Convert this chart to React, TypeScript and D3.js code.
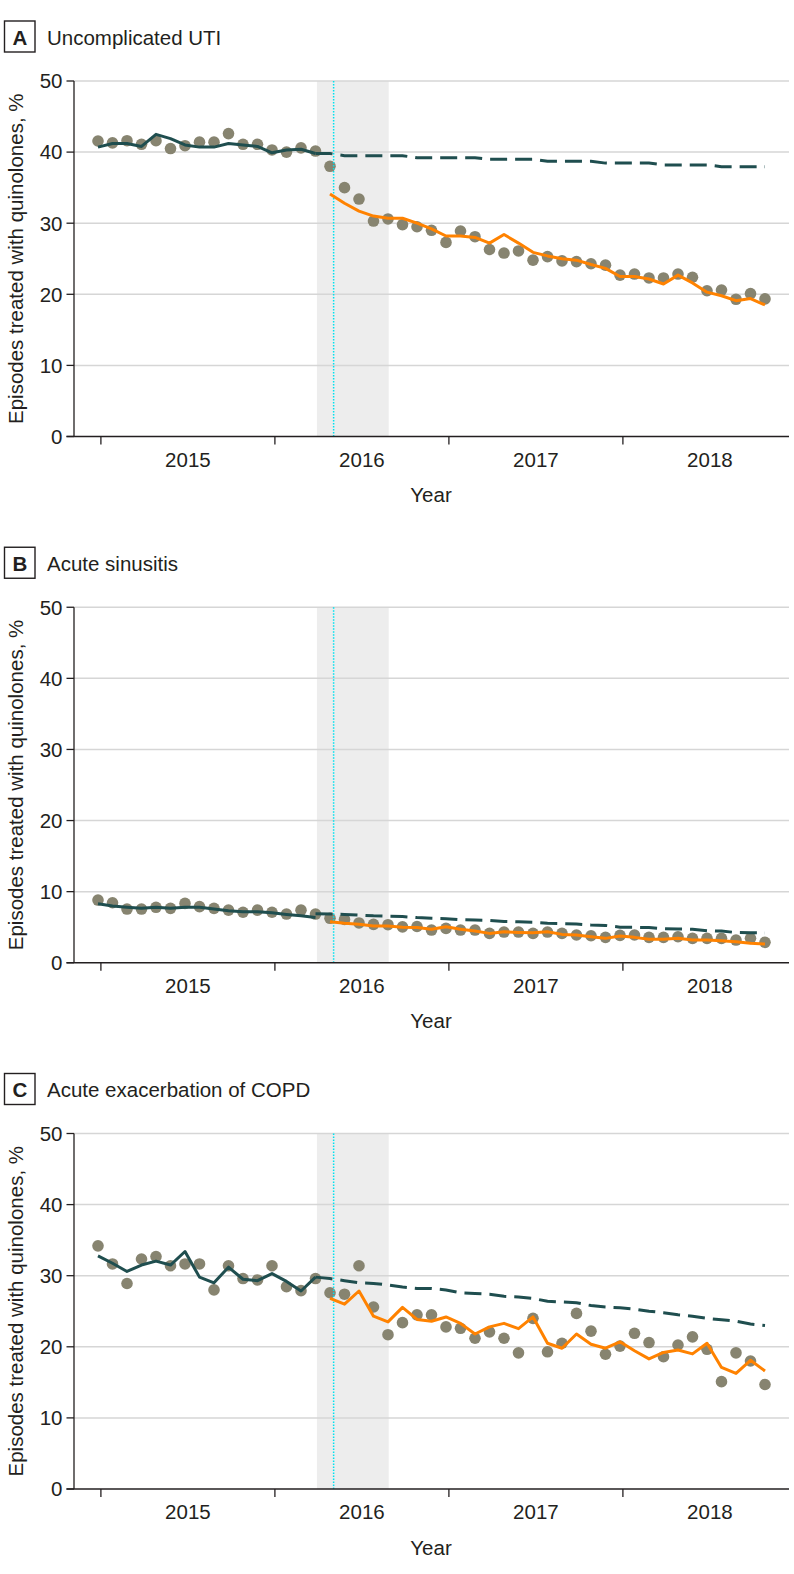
import React from "react";
import * as d3 from "d3";

// Months: Jan 2015 .. Nov 2018 (index 0..46)
const monthCount = 47;
const yearLabels = ["2015", "2016", "2017", "2018"];
const yTicks = [0, 10, 20, 30, 40, 50];
const preStart = 0; // pre-period fitted line starts at Jan 2015
const cfStart = 15; // counterfactual starts at Apr 2016
const postStart = 16; // post-period fitted line starts at May 2016
const warningIndex = 16.25; // FDA warning (May 2016)
const transitionStart = 15.1;
const transitionEnd = 20.05;

const titles = ["Uncomplicated UTI", "Acute sinusitis", "Acute exacerbation of COPD"];
const letters = ["A", "B", "C"];

const utiObserved = [41.56, 41.3, 41.6, 41.1, 41.6, 40.5, 40.9, 41.4, 41.4, 42.6, 41.1, 41.1, 40.3, 40.0, 40.6, 40.15,
  38.0, 35.0, 33.4, 30.3, 30.6, 29.8, 29.5, 29.0, 27.3, 28.9, 28.1, 26.3, 25.8, 26.1, 24.8, 25.3, 24.7, 24.6, 24.3,
  24.1, 22.7, 22.85, 22.3, 22.3, 22.85, 22.4, 20.5, 20.6, 19.3, 20.1, 19.35];
const utiPreFit = [40.7, 41.2, 41.2, 40.8, 42.5, 41.9, 41.0, 40.7, 40.7, 41.2, 41.0, 40.8, 39.9, 40.3, 40.4, 39.8];
const utiCounterfactual = [39.8, 39.8, 39.5, 39.5, 39.5, 39.5, 39.5, 39.2, 39.2, 39.2, 39.2, 39.2, 39.0, 39.0, 39.0,
  39.0, 38.7, 38.7, 38.7, 38.7, 38.45, 38.45, 38.45, 38.45, 38.2, 38.2, 38.2, 38.2, 37.95, 37.95, 37.95, 37.95];
const utiPostFit = [34.1, 32.8, 31.7, 31.0, 30.7, 30.7, 30.0, 29.2, 28.2, 28.2, 28.0, 27.2, 28.4, 27.2, 25.9, 25.4,
  25.0, 24.8, 24.2, 23.65, 22.5, 22.5, 22.15, 21.45, 22.7, 21.6, 20.3, 19.8, 19.1, 19.4, 18.5];

const sinObserved = [8.82, 8.44, 7.55, 7.55, 7.8, 7.65, 8.35, 7.9, 7.65, 7.4, 7.1, 7.4, 7.1, 6.85, 7.4, 6.85,
  6.25, 6.1, 5.6, 5.4, 5.35, 5.05, 5.1, 4.6, 4.83, 4.6, 4.6, 4.13, 4.32, 4.32, 4.13, 4.32, 4.13, 3.9, 3.8, 3.57,
  3.85, 3.9, 3.57, 3.57, 3.66, 3.43, 3.43, 3.43, 3.19, 3.43, 2.87];
const sinPreFit = [8.3, 7.97, 7.8, 7.65, 7.8, 7.65, 7.8, 7.8, 7.55, 7.3, 7.17, 7.17, 7.03, 6.8, 6.6, 6.38];
const sinCounterfactual = [6.9, 6.85, 6.8, 6.7, 6.6, 6.55, 6.5, 6.35, 6.25, 6.2, 6.05, 6.0, 5.95, 5.8, 5.75, 5.7,
  5.55, 5.5, 5.45, 5.3, 5.25, 5.0, 4.98, 4.95, 4.78, 4.75, 4.7, 4.5, 4.45, 4.25, 4.22, 4.2];
const sinPostFit = [5.77, 5.54, 5.4, 5.16, 5.16, 5.0, 4.95, 4.7, 5.06, 4.7, 4.46, 4.13, 4.36, 4.27, 4.22, 4.36,
  3.99, 3.9, 3.66, 3.43, 3.76, 3.57, 3.29, 3.29, 3.43, 3.19, 3.19, 3.1, 2.95, 2.73, 2.63];

const copdObserved = [34.2, 31.65, 28.9, 32.35, 32.7, 31.4, 31.65, 31.65, 28.0, 31.4, 29.6, 29.4, 31.4, 28.45, 27.9,
  29.6, 27.6, 27.4, 31.4, 25.6, 21.7, 23.4, 24.5, 24.5, 22.8, 22.6, 21.2, 22.1, 21.2, 19.15, 24.0, 19.3, 20.5, 24.7,
  22.2, 18.95, 20.1, 21.9, 20.6, 18.6, 20.25, 21.4, 19.65, 15.1, 19.15, 18.0, 14.7];
const copdPreFit = [32.8, 31.75, 30.6, 31.5, 32.05, 31.5, 33.4, 29.8, 29.0, 31.2, 29.5, 29.3, 30.3, 29.2, 27.85, 29.8];
const copdCounterfactual = [29.8, 29.6, 29.3, 29.0, 28.9, 28.7, 28.4, 28.2, 28.2, 28.0, 27.6, 27.5, 27.4, 27.1, 27.0,
  26.8, 26.4, 26.3, 26.2, 25.8, 25.6, 25.5, 25.3, 25.0, 24.8, 24.5, 24.3, 24.0, 23.8, 23.6, 23.2, 23.0];
const copdPostFit = [26.8, 26.0, 27.85, 24.3, 23.5, 25.55, 23.85, 23.6, 24.2, 23.3, 21.8, 22.8, 23.3, 22.55, 24.2,
  20.5, 19.8, 21.8, 20.35, 19.8, 20.7, 19.45, 18.3, 19.2, 19.55, 19.0, 20.5, 17.1, 16.25, 18.1, 16.6];

const panels = [
  { observed: utiObserved, pre: utiPreFit, cf: utiCounterfactual, post: utiPostFit },
  { observed: sinObserved, pre: sinPreFit, cf: sinCounterfactual, post: sinPostFit },
  { observed: copdObserved, pre: copdPreFit, cf: copdCounterfactual, post: copdPostFit },
];

const FONT = "'Liberation Sans', Arial, sans-serif";
const W = 794;
const H = 1574;
const PANEL_STEP = 526.25;
const PLOT_TOP = 81;
const PLOT_BOTTOM = 436.5;
const AXIS_X = 74;
const PLOT_RIGHT = 789;
const FS = 20.5;

const DOT = "#878470";
const TEAL = "#1f4e4f";
const ORANGE = "#ff8200";
const CYAN = "#00e1f0";
const INK = "#231f20";

const x = d3.scaleLinear().domain([0, monthCount - 1]).range([98, 765]);
const tickIdx = [0, 12, 24, 36, 48].map((m) => m + 0.2);

function Panel({ k }: { k: number }) {
  const off = k * PANEL_STEP;
  const p = panels[k];
  const y = d3.scaleLinear().domain([0, 50]).range([PLOT_BOTTOM + off, PLOT_TOP + off]);
  const line = (start: number) =>
    d3.line<number>().x((_, i) => x(start + i)).y((v) => y(v));
  return (
    <g>
      {/* title */}
      <rect x={4.5} y={21 + off} width={30.5} height={31} fill="none" stroke={INK} strokeWidth={1.4} />
      <text x={19.8} y={44.5 + off} textAnchor="middle" fontFamily={FONT} fontWeight="bold" fontSize={FS} fill={INK}>
        {letters[k]}
      </text>
      <text x={47} y={44.5 + off} fontFamily={FONT} fontSize={FS} fill={INK}>
        {titles[k]}
      </text>
      {/* shading */}
      <rect
        x={x(transitionStart)}
        y={y(50)}
        width={x(transitionEnd) - x(transitionStart)}
        height={y(0) - y(50)}
        fill="#ededed"
      />
      {/* gridlines */}
      {yTicks.filter((t) => t > 0).map((t) => (
        <line key={t} x1={AXIS_X} x2={PLOT_RIGHT} y1={y(t)} y2={y(t)} stroke="#d6d6d6" strokeWidth={1.5} />
      ))}
      {/* dots */}
      {p.observed.map((v, i) => (
        <circle key={i} cx={x(i)} cy={y(v)} r={5.8} fill={DOT} />
      ))}
      {/* warning line */}
      <line x1={x(warningIndex)} x2={x(warningIndex)} y1={y(50)} y2={y(0)} stroke={CYAN} strokeWidth={1.5} strokeDasharray="1.5,1.5" />
      {/* fitted lines */}
      <path d={line(cfStart)(p.cf) || ""} fill="none" stroke={TEAL} strokeWidth={3} strokeDasharray="17,8" />
      <path d={line(preStart)(p.pre) || ""} fill="none" stroke={TEAL} strokeWidth={3} strokeLinejoin="round" />
      <path d={line(postStart)(p.post) || ""} fill="none" stroke={ORANGE} strokeWidth={3} strokeLinejoin="round" />
      {/* axes */}
      <line x1={AXIS_X} x2={AXIS_X} y1={y(50)} y2={y(0)} stroke={INK} strokeWidth={1.3} />
      <line x1={66.5} x2={PLOT_RIGHT} y1={y(0)} y2={y(0)} stroke={INK} strokeWidth={1.3} />
      {yTicks.map((t) => (
        <g key={t}>
          <line x1={66.5} x2={AXIS_X} y1={y(t)} y2={y(t)} stroke={INK} strokeWidth={1.3} />
          <text x={62.5} y={y(t)} dy="0.36em" textAnchor="end" fontFamily={FONT} fontSize={FS} fill={INK}>
            {t}
          </text>
        </g>
      ))}
      {tickIdx.slice(0, 4).map((t) => (
        <line key={t} x1={x(t)} x2={x(t)} y1={y(0)} y2={y(0) + 8} stroke={INK} strokeWidth={1.3} />
      ))}
      {yearLabels.map((lab, i) => (
        <text
          key={lab}
          x={(x(tickIdx[i]) + x(tickIdx[i + 1])) / 2}
          y={y(0) + 30.2}
          textAnchor="middle"
          fontFamily={FONT}
          fontSize={FS}
          fill={INK}
        >
          {lab}
        </text>
      ))}
      <text x={431} y={502 + off} textAnchor="middle" fontFamily={FONT} fontSize={FS} fill={INK}>
        Year
      </text>
      <text
        transform={`translate(23, ${(y(0) + y(50)) / 2}) rotate(-90)`}
        textAnchor="middle"
        fontFamily={FONT}
        fontSize={FS}
        fill={INK}
      >
        Episodes treated with quinolones, %
      </text>
    </g>
  );
}

export default function App() {
  return (
    <svg
      width={W}
      height={H}
      viewBox={`0 0 ${W} ${H}`}
      style={{ position: "absolute", left: 0, top: 0, background: "#fff" }}
    >
      <rect x={0} y={0} width={W} height={H} fill="#fff" />
      {[0, 1, 2].map((k) => (
        <Panel key={k} k={k} />
      ))}
    </svg>
  );
}
